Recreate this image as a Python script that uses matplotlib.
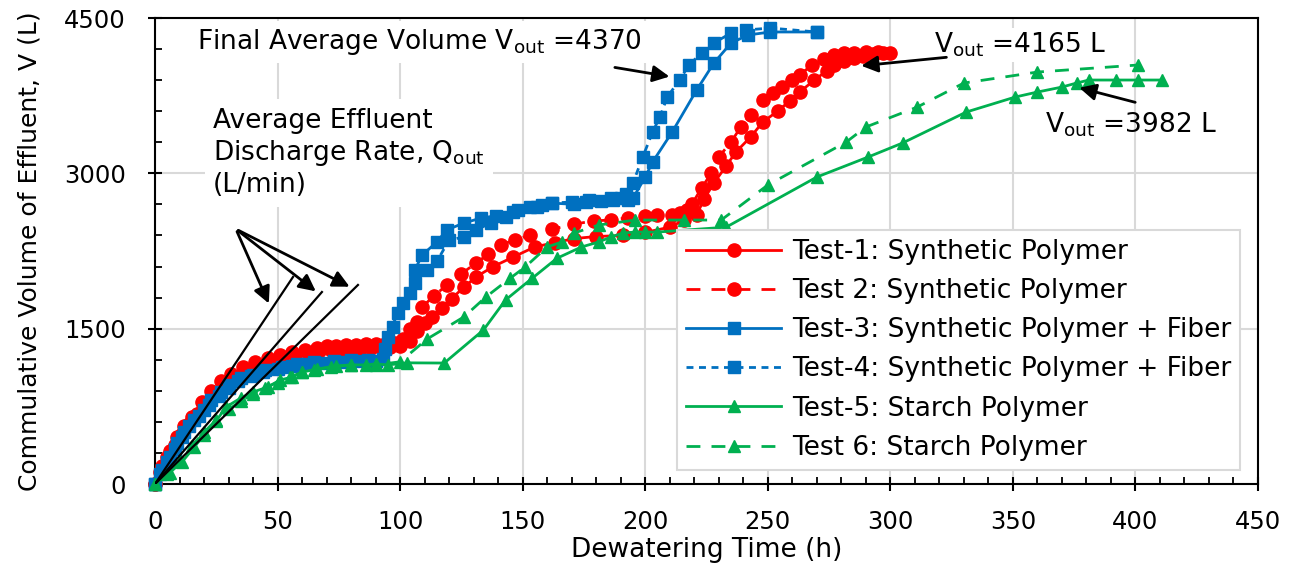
import matplotlib
matplotlib.use("Agg")
import matplotlib.pyplot as plt
from matplotlib.ticker import MultipleLocator

plt.rcParams['font.family'] = ['DejaVu Sans']
plt.rcParams['mathtext.default'] = 'regular'

# Test-1: Synthetic Polymer (red solid)
t1 = [0, 2, 5, 8, 11, 14, 17, 20, 24, 28, 32, 37, 42, 47, 52, 57, 62, 67, 72, 76, 80, 84, 88, 92, 96, 100,
      104, 107, 110, 113, 117, 121, 126, 131, 138, 146, 155, 163, 171, 180, 191, 200, 210, 216, 221, 224, 228,
      233, 237, 243, 248, 254, 259, 263, 269, 274, 277, 281, 285, 289, 293, 297, 300]
v1 = [0, 120, 260, 380, 480, 580, 680, 760, 850, 930, 1000, 1070, 1130, 1180, 1220, 1250, 1270, 1285, 1295, 1300,
      1305, 1310, 1315, 1320, 1325, 1330, 1380, 1480, 1550, 1610, 1700, 1790, 1900, 2000, 2100, 2190, 2290, 2330,
      2370, 2390, 2400, 2430, 2480, 2550, 2600, 2750, 2906, 3070, 3206, 3351, 3496, 3600, 3700, 3785, 3900, 3990,
      4046, 4080, 4110, 4130, 4150, 4160, 4165]

# Test 2: Synthetic Polymer (red dashed)
t2 = [0, 3, 6, 9, 12, 15, 19, 23, 27, 31, 36, 41, 46, 51, 56, 61, 66, 70, 74, 78, 82, 86, 90, 94, 98, 101, 104,
      107, 109, 114, 119, 125, 131, 136, 141, 147, 153, 162, 171, 179, 186, 193, 200, 205, 211, 214, 217, 219,
      223, 227, 230, 235, 239, 243, 248, 252, 256, 260, 263, 268, 273, 277, 281, 285, 290, 295]
v2 = [0, 170, 320, 450, 560, 650, 790, 900, 990, 1060, 1130, 1180, 1220, 1250, 1270, 1290, 1310, 1330, 1335, 1340,
      1345, 1350, 1350, 1355, 1360, 1400, 1500, 1560, 1710, 1820, 1920, 2030, 2134, 2220, 2307, 2360, 2404, 2460,
      2510, 2540, 2550, 2570, 2585, 2597, 2600, 2620, 2650, 2700, 2858, 3003, 3158, 3302, 3447, 3560, 3708, 3780,
      3833, 3900, 3949, 4046, 4100, 4143, 4162, 4165, 4170, 4170]

# Test-3: Synthetic Polymer + Fiber (blue solid)
t3 = [0, 3, 6, 9, 12, 16, 20, 23, 27, 30, 35, 40, 45, 52, 58, 65, 73, 80, 87, 93, 95, 99, 104, 106, 109, 115, 119,
      126, 133, 139, 146, 156, 162, 171, 176, 182, 187, 193, 195, 200, 203, 211, 221, 228, 235, 242, 251, 270]
v3 = [0, 135, 260, 396, 502, 618, 714, 811, 888, 956, 1023, 1052, 1100, 1130, 1160, 1175, 1190, 1195, 1200, 1210,
      1420, 1651, 1844, 2066, 2211, 2337, 2453, 2520, 2568, 2590, 2627, 2675, 2713, 2700, 2720, 2730, 2740, 2745,
      2760, 2964, 3109, 3399, 3805, 4065, 4258, 4336, 4365, 4365]

# Test-4: Synthetic Polymer + Fiber (blue dashed)
t4 = [0, 2, 5, 8, 11, 14, 18, 22, 26, 30, 34, 39, 44, 50, 56, 62, 69, 76, 83, 90, 94, 97, 101, 106, 111, 115, 120,
      126, 131, 137, 143, 148, 153, 158, 162, 170, 177, 186, 190, 192, 195, 199, 203, 206, 209, 214, 218, 223, 228,
      235, 241, 251, 270]
v4 = [0, 100, 210, 340, 450, 560, 660, 760, 850, 930, 990, 1040, 1080, 1110, 1140, 1160, 1170, 1180, 1185, 1190,
      1300, 1516, 1748, 1941, 2066, 2150, 2356, 2385, 2453, 2520, 2578, 2646, 2675, 2694, 2713, 2723, 2742, 2762,
      2762, 2800, 2906, 3158, 3399, 3544, 3737, 3901, 4050, 4162, 4258, 4355, 4384, 4403, 4365]

# Test-5: Starch Polymer (green solid)
t5 = [0, 6, 11, 16, 20, 25, 29, 35, 40, 46, 51, 56, 60, 66, 74, 80, 86, 90, 95, 103, 118, 134, 143, 154, 164, 174,
      181, 186, 191, 196, 200, 205, 233, 270, 291, 305, 331, 351, 360, 370, 376, 381, 392, 401, 411]
v5 = [0, 110, 212, 357, 473, 610, 744, 830, 888, 937, 1004, 1033, 1080, 1110, 1140, 1150, 1150, 1160, 1150, 1170,
      1168, 1487, 1777, 1989, 2180, 2289, 2337, 2385, 2424, 2433, 2433, 2433, 2480, 2964, 3158, 3293, 3592, 3737,
      3785, 3833, 3872, 3901, 3901, 3901, 3901]

# Test 6: Starch Polymer (green dashed)
t6 = [0, 5, 10, 15, 20, 25, 30, 35, 40, 45, 50, 55, 60, 65, 72, 80, 90, 100, 111, 126, 135, 145, 151, 160, 166,
      171, 181, 196, 216, 231, 250, 282, 290, 311, 330, 360, 401]
v6 = [0, 100, 220, 370, 500, 620, 720, 800, 870, 930, 980, 1030, 1080, 1100, 1130, 1150, 1150, 1180, 1400, 1613,
      1806, 1989, 2095, 2289, 2337, 2424, 2501, 2549, 2549, 2549, 2887, 3302, 3447, 3640, 3872, 3978, 4046]

labels = ["Test-1: Synthetic Polymer", "Test 2: Synthetic Polymer",
          "Test-3: Synthetic Polymer + Fiber", "Test-4: Synthetic Polymer + Fiber",
          "Test-5: Starch Polymer", "Test 6: Starch Polymer"]

# discharge-rate reference lines from origin (end points)
rate_t = [56.3, 68.1, 82.8]
rate_v = [1999, 1854, 1922]
rate_arrow_tip_t = [46.9, 66.5, 80.4]
rate_arrow_tip_v = [1719, 1844, 1893]

red = "#FF0000"
blue = "#0070C0"
green = "#00B050"

fig = plt.figure(figsize=(12.91, 5.68), dpi=100)
ax = fig.add_axes([155 / 1291, 84 / 568, 1103 / 1291, 466 / 568])

ax.plot(t1, v1, color=red, lw=2, marker="o", ms=9.5, label=labels[0], clip_on=False, zorder=3)
ax.plot(t2, v2, color=red, lw=2, ls=(0, (5, 4)), marker="o", ms=9.5, label=labels[1], clip_on=False, zorder=3)
ax.plot(t3, v3, color=blue, lw=2, marker="s", ms=8.5, label=labels[2], clip_on=False, zorder=3)
ax.plot(t4, v4, color=blue, lw=2, ls=(0, (2.5, 2)), marker="s", ms=8.5, label=labels[3], clip_on=False, zorder=3)
ax.plot(t5, v5, color=green, lw=2, marker="^", ms=9, label=labels[4], clip_on=False, zorder=3)
ax.plot(t6, v6, color=green, lw=2, ls=(0, (5, 4)), marker="^", ms=9, label=labels[5], clip_on=False, zorder=3)

# straight lines for average discharge rate
for te, ve in zip(rate_t, rate_v):
    ax.plot([0, te], [0, ve], color="black", lw=1.6, zorder=4)

arrow = dict(arrowstyle="-|>", color="black", lw=2, mutation_scale=25)
ann_font = dict(family="DejaVu Sans", fontsize=19)

ax.text(23.7, 3196, "Average Effluent\nDischarge Rate, Q$_{out}$\n(L/min)", ha="left", va="center",
        linespacing=1.2, zorder=5, bbox=dict(fc="white", ec="none", pad=6), **ann_font)
for tt, tv in zip(rate_arrow_tip_t, rate_arrow_tip_v):
    ax.annotate("", xy=(tt, tv), xytext=(33, 2462), arrowprops=arrow, zorder=5)

ax.text(17, 4268, "Final Average Volume V$_{out}$ =4370", ha="left", va="center", zorder=5,
        bbox=dict(fc="white", ec="none", pad=4), **ann_font)
ax.annotate("", xy=(211, 3930), xytext=(186.5, 4027), arrowprops=arrow, zorder=5)

ax.text(318, 4240, "V$_{out}$ =4165 L", ha="left", va="center", zorder=5,
        bbox=dict(fc="white", ec="none", pad=2), **ann_font)
ax.annotate("", xy=(287, 4036), xytext=(324, 4123), arrowprops=arrow, zorder=5)

ax.text(363, 3467, "V$_{out}$ =3982 L", ha="left", va="center", zorder=5, **ann_font)
ax.annotate("", xy=(376, 3833), xytext=(401, 3679), arrowprops=arrow, zorder=5)

ax.set_xlim(0, 450)
ax.set_ylim(0, 4500)
ax.xaxis.set_major_locator(MultipleLocator(50))
ax.xaxis.set_minor_locator(MultipleLocator(10))
ax.yaxis.set_major_locator(MultipleLocator(1500))
ax.yaxis.set_minor_locator(MultipleLocator(300))
ax.tick_params(which="major", direction="inout", length=10, width=1.5, labelsize=17.5)
ax.tick_params(axis="y", which="major", pad=16)
ax.tick_params(axis="x", which="major", pad=14)
ax.tick_params(which="minor", direction="in", length=5, width=1.3)
for s in ax.spines.values():
    s.set_linewidth(1.5)
ax.grid(True, which="major", color="#D9D9D9", lw=1.5)
ax.set_axisbelow(True)

ax.set_xlabel("Dewatering Time (h)", fontsize=19, labelpad=2)
ax.set_ylabel("Commulative Volume of Effluent, V (L)", fontsize=18, labelpad=16)

leg = ax.legend(loc="lower right", bbox_to_anchor=(0.984, 0.03), borderaxespad=0, fontsize=19,
                handlelength=3.6, labelspacing=0.5, fancybox=False, framealpha=1, edgecolor="#D9D9D9",
                borderpad=0.35, handletextpad=0.4)
leg.get_frame().set_linewidth(1.5)
leg.set_zorder(6)

plt.savefig("out.png", dpi=100)
